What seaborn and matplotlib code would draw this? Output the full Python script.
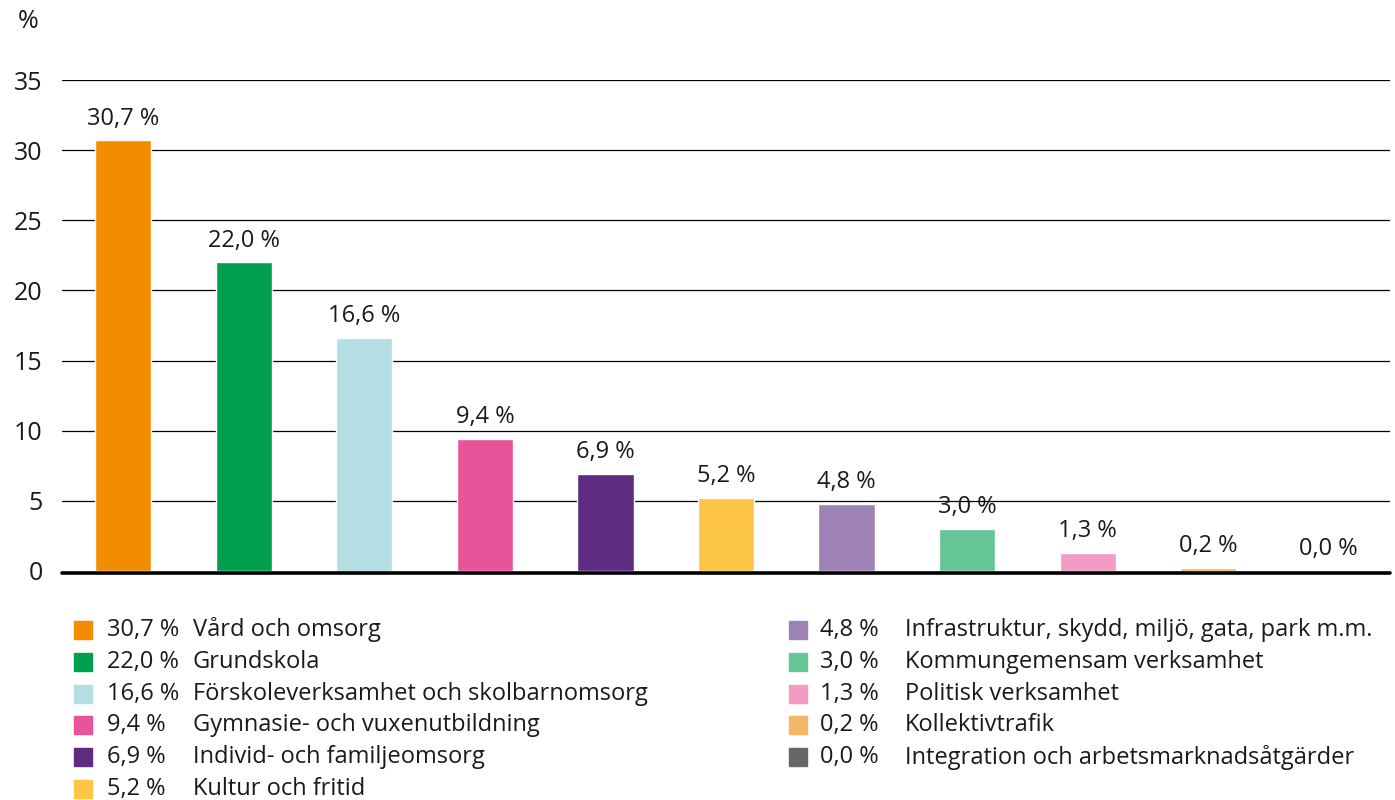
import matplotlib.pyplot as plt
from matplotlib.patches import Rectangle
import pandas as pd
import seaborn as sns

# data
categories = [
    'Vård och omsorg', 'Grundskola', 'Förskoleverksamhet och skolbarnomsorg',
    'Gymnasie- och vuxenutbildning', 'Individ- och familjeomsorg', 'Kultur och fritid',
    'Infrastruktur, skydd, miljö, gata, park m.m.', 'Kommungemensam verksamhet',
    'Politisk verksamhet', 'Kollektivtrafik', 'Integration och arbetsmarknadsåtgärder',
]
shares = [30.7, 22.0, 16.6, 9.4, 6.9, 5.2, 4.8, 3.0, 1.3, 0.2, 0.0]
colors = ['#F28C00', '#009E4F', '#B3DEE3', '#E8539A', '#5E2C83', '#FEC647',
          '#9E82B6', '#66C595', '#F29BC4', '#F6B668', '#666666']
yticks = [0, 5, 10, 15, 20, 25, 30, 35]


def fmt(v):
    return f"{v:.1f}".replace('.', ',') + ' %'


df = pd.DataFrame({'cat': categories, 'share': shares})

sns.set_style('white')
plt.rcParams['font.family'] = ['Open Sans', 'DejaVu Sans']

fig = plt.figure(figsize=(13.95, 8), dpi=100)
ax = fig.add_axes([62 / 1395, 1 - 571 / 800, 1328 / 1395, 491 / 800])

sns.barplot(data=df, x='cat', y='share', hue='cat', palette=colors,
            width=0.465, legend=False, ax=ax, saturation=1, zorder=2)

for c in ax.containers:
    ax.bar_label(c, labels=[fmt(v) for v in c.datavalues], padding=7,
                 fontsize=17, color='#1a1a1a')

ax.set_ylim(0, 35)
ax.set_xlim(-0.51, 10.51)
ax.set_yticks(yticks)
ax.set_yticklabels([str(t) for t in yticks], fontsize=18, color='#1a1a1a')
ax.tick_params(axis='y', length=0, pad=14)
ax.set_xticks([])
ax.set_xlabel('')
ax.set_ylabel('')
sns.despine(ax=ax, left=True, bottom=True)
for t in yticks[1:]:
    ax.axhline(t, color='black', lw=0.9, zorder=0)
# thick baseline, drawn just under the axis so small bars stay visible
ax.axhline(-0.13, color='black', lw=2.6, zorder=1, clip_on=False)

fig.text(28 / 1395, 1 - 22 / 800, '%', fontsize=18, ha='center', va='center',
         color='#1a1a1a')

# legend, two columns
rows_left = 6
for i, (name, v, col) in enumerate(zip(categories, shares, colors)):
    if i < rows_left:
        sq_x, val_x, name_x, row = 74, 107, 193, i
    else:
        sq_x, val_x, name_x, row = 789, 820, 905, i - rows_left
    yc = 630 + row * 31.8
    fig.patches.append(Rectangle((sq_x / 1395, 1 - (yc + 9) / 800), 18 / 1395, 18 / 800,
                                 transform=fig.transFigure, color=col, figure=fig))
    fig.text(val_x / 1395, 1 - yc / 800, fmt(v), fontsize=17, va='center',
             ha='left', color='#1a1a1a')
    fig.text(name_x / 1395, 1 - yc / 800, name, fontsize=17, va='center',
             ha='left', color='#1a1a1a')

fig.savefig('out.png', dpi=100)
